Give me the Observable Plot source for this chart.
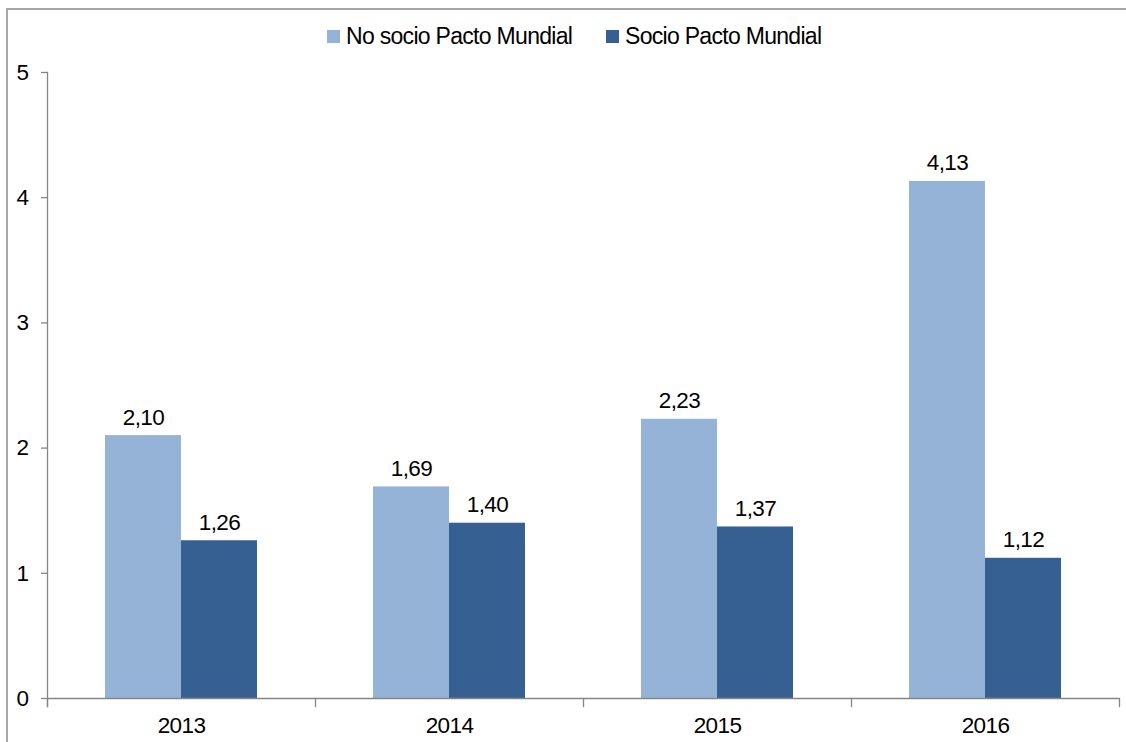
<!DOCTYPE html>
<html>
<head>
<meta charset="utf-8">
<script src="https://cdn.jsdelivr.net/npm/d3@7"></script>
<script src="https://cdn.jsdelivr.net/npm/@observablehq/plot@0.6"></script>
<style>
  html, body { margin: 0; padding: 0; background: #fff; }
  #wrap { position: relative; width: 1126px; height: 742px; overflow: hidden; background: #fff;
          font-family: "Liberation Sans", Arial, sans-serif; }
  #border { position: absolute; left: 6px; top: 8px; width: 1300px; height: 900px;
            border-left: 2px solid #a6a6a6; border-top: 2px solid #a6a6a6; }
  #legend { position: absolute; top: 22px; left: 0; width: 1126px; height: 30px;
            font-size: 23px; color: #000; letter-spacing: -0.7px; white-space: nowrap; }
  .item { position: absolute; top: 0; display: flex; align-items: center; height: 28px; }
  .sw { width: 13px; height: 13px; margin-right: 6px; }
  #chart { position: absolute; left: 0; top: 60px; }
  #chart svg text { letter-spacing: -0.6px; }
</style>
</head>
<body>
<div id="wrap">
  <div id="border"></div>
  <div id="legend"></div>
  <div id="chart"></div>
</div>
<script>
const years = ["2013", "2014", "2015", "2016"];
const series = ["No socio Pacto Mundial", "Socio Pacto Mundial"];
const noSocio = [2.10, 1.69, 2.23, 4.13];
const socio = [1.26, 1.40, 1.37, 1.12];
const yTicks = [0, 1, 2, 3, 4, 5];
const colors = ["#95b3d7", "#366092"];
const legendLeft = [327, 606];

const table = [];
years.forEach((yr, i) => {
  table.push({year: yr, series: series[0], value: noSocio[i]});
  table.push({year: yr, series: series[1], value: socio[i]});
});

// legend
const legend = document.getElementById("legend");
series.forEach((s, i) => {
  const it = document.createElement("div");
  it.className = "item";
  it.style.left = legendLeft[i] + "px";
  const sw = document.createElement("div");
  sw.className = "sw";
  sw.style.background = colors[i];
  const t = document.createElement("span");
  t.textContent = s;
  it.appendChild(sw); it.appendChild(t);
  legend.appendChild(it);
});

const W = 1126, H = 682, mT = 12, mB = 44, mL = 46, mR = 7;
const plotH = H - mT - mB;
const axisColor = "#868686";
const fmt = v => v.toFixed(2).replace(".", ",");

const chart = Plot.plot({
  width: W, height: H,
  marginTop: mT, marginBottom: mB, marginLeft: mL, marginRight: mR,
  style: {fontFamily: "'Liberation Sans', Arial, sans-serif", fontSize: "22.5px", color: "#000", background: "transparent"},
  fx: {domain: years, padding: 0, label: null},
  x: {domain: series, paddingInner: 0, paddingOuter: 0.763, label: null, axis: null},
  y: {domain: [0, 5], label: null},
  color: {domain: series, range: colors},
  marks: [
    Plot.barY(table, {fx: "year", x: "series", y: "value", fill: "series"}),
    Plot.text(table, {fx: "year", x: "series", y: "value", text: d => fmt(d.value),
                      lineAnchor: "bottom", dy: -11, fill: "#000"}),
    Plot.ruleY([0], {stroke: axisColor, strokeWidth: 1.3}),
    Plot.frame({anchor: "left", facetAnchor: "left", insetBottom: -8, stroke: axisColor, strokeWidth: 1.3}),
    Plot.frame({anchor: "left", insetTop: plotH, insetBottom: -8, stroke: axisColor, strokeWidth: 1.3}),
    Plot.frame({anchor: "right", facetAnchor: "right", insetTop: plotH, insetBottom: -8, stroke: axisColor, strokeWidth: 1.3}),
    Plot.axisY({ticks: yTicks, tickSize: 6, tickPadding: 13, stroke: axisColor, fill: "#000",
                tickFormat: d => String(d), label: null, strokeWidth: 1.3}),
    Plot.axisFx({anchor: "bottom", tickSize: 0, tickPadding: 19, label: null, fill: "#000"})
  ]
});
document.getElementById("chart").appendChild(chart);
</script>
</body>
</html>
